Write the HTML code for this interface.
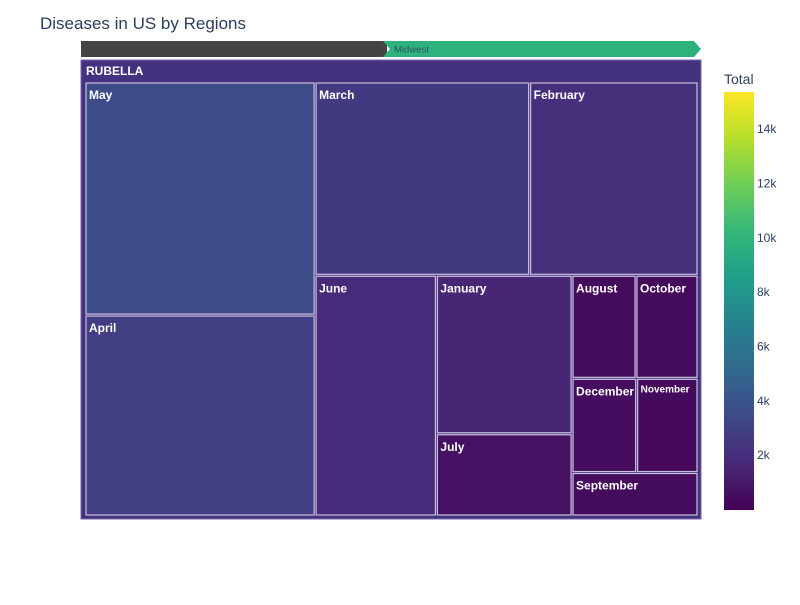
<!DOCTYPE html>
<html><head><meta charset="utf-8"><style>
body{margin:0;background:#fff;font-family:"Liberation Sans",Arial,sans-serif}
svg text{font-family:"Liberation Sans",Arial,sans-serif}
</style></head><body>
<svg id="chart" width="800" height="600" xmlns="http://www.w3.org/2000/svg">
<defs><linearGradient id="vir" x1="0" y1="1" x2="0" y2="0">
<stop offset="0" stop-color="#440154"/><stop offset="0.111" stop-color="#482878"/><stop offset="0.222" stop-color="#3e4989"/><stop offset="0.333" stop-color="#31688e"/><stop offset="0.444" stop-color="#26828e"/><stop offset="0.556" stop-color="#1f9e89"/><stop offset="0.667" stop-color="#35b779"/><stop offset="0.778" stop-color="#6ece58"/><stop offset="0.889" stop-color="#b5de2b"/><stop offset="1" stop-color="#fde725"/>
</linearGradient></defs>
<text x="40" y="29" font-size="17" fill="#2a3f5f">Diseases in US by Regions</text>
<rect x="81" y="41" width="306" height="16" fill="#444"/>
<polygon points="383,41 694,41 701,49 694,57 383,57 390,49" fill="#2db27d"/>
<text x="394" y="52.5" font-size="9.5" fill="#2a3f5f" opacity="0.8">Midwest</text>
<rect x="81" y="60" width="620" height="459" fill="#45327f" stroke="#7766aa" stroke-width="1"/>
<text x="86" y="75" font-size="12" font-weight="bold" fill="#fff">RUBELLA</text>
<g id="leaves"></g>
<rect x="724" y="92" width="30" height="418" fill="url(#vir)"/>
<text x="724" y="84" font-size="14" fill="#2a3f5f">Total</text>
<g id="cbticks"></g>
</svg>
<script>
const months=["May","April","March","February","June","January","July","August","October","December","November","September"];
const sizes=[529,456,409,321,288,212,110,65,63,60,57,54];
const colors=[3500,2850,2650,2050,1800,1600,700,450,420,500,380,420];
const tickVals=[2000,4000,6000,8000,10000,12000,14000];
const tickLabels=["2k","4k","6k","8k","10k","12k","14k"];
const cmax=15350;
const tree={d:"h",c:[{d:"v",c:[0,1]},{d:"v",c:[{d:"h",c:[2,3]},{d:"h",c:[4,{d:"v",c:[5,6]},{d:"v",c:[{d:"h",c:[7,8]},{d:"h",c:[9,10]},11]}]}]}]};
const vir=["#440154","#482878","#3e4989","#31688e","#26828e","#1f9e89","#35b779","#6ece58","#b5de2b","#fde725"];
function hx(c){return [1,3,5].map(i=>parseInt(c.substr(i,2),16));}
function viridis(v){let t=Math.max(0,Math.min(1,v/cmax))*9;let i=Math.min(8,Math.floor(t)),f=t-i;
 const a=hx(vir[i]),b=hx(vir[i+1]);return "rgb("+a.map((x,k)=>Math.round(x+(b[k]-x)*f)).join(",")+")";}
function total(n){return typeof n==="number"?sizes[n]:n.c.reduce((s,x)=>s+total(x),0);}
const g=document.getElementById("leaves");
const NS="http://www.w3.org/2000/svg";
function layout(n,x,y,w,h){
 if(typeof n==="number"){
  const r=document.createElementNS(NS,"rect");
  r.setAttribute("x",x+1);r.setAttribute("y",y+1);r.setAttribute("width",w-2);r.setAttribute("height",h-2);
  r.setAttribute("fill",viridis(colors[n]));r.setAttribute("stroke","#c8c0dc");r.setAttribute("stroke-width","1.2");
  
  
  g.appendChild(r);
  const t=document.createElementNS(NS,"text");
  const small=w<64&&months[n].length>7;
  t.setAttribute("x",x+4);t.setAttribute("y",y+(small?14:17));t.setAttribute("font-size",small?"10":"12");
  t.setAttribute("font-weight","bold");t.setAttribute("fill","#fff");t.textContent=months[n];
  
  
  g.appendChild(t);return;}
 const T=total(n);let off=0;
 n.c.forEach(ch=>{const f=total(ch)/T;
  if(n.d==="h"){layout(ch,x+off,y,w*f,h);off+=w*f;}else{layout(ch,x,y+off,w,h*f);off+=h*f;}});
}
layout(tree,85,82,613,434);
const cb=document.getElementById("cbticks");
tickVals.forEach((v,i)=>{const t=document.createElementNS(NS,"text");
 t.setAttribute("x",757);t.setAttribute("y",509-(v/cmax)*417+4.5);t.setAttribute("font-size","12");t.setAttribute("fill","#2a3f5f");
 t.textContent=tickLabels[i];
 
 
 cb.appendChild(t);});
</script>
</body></html>
